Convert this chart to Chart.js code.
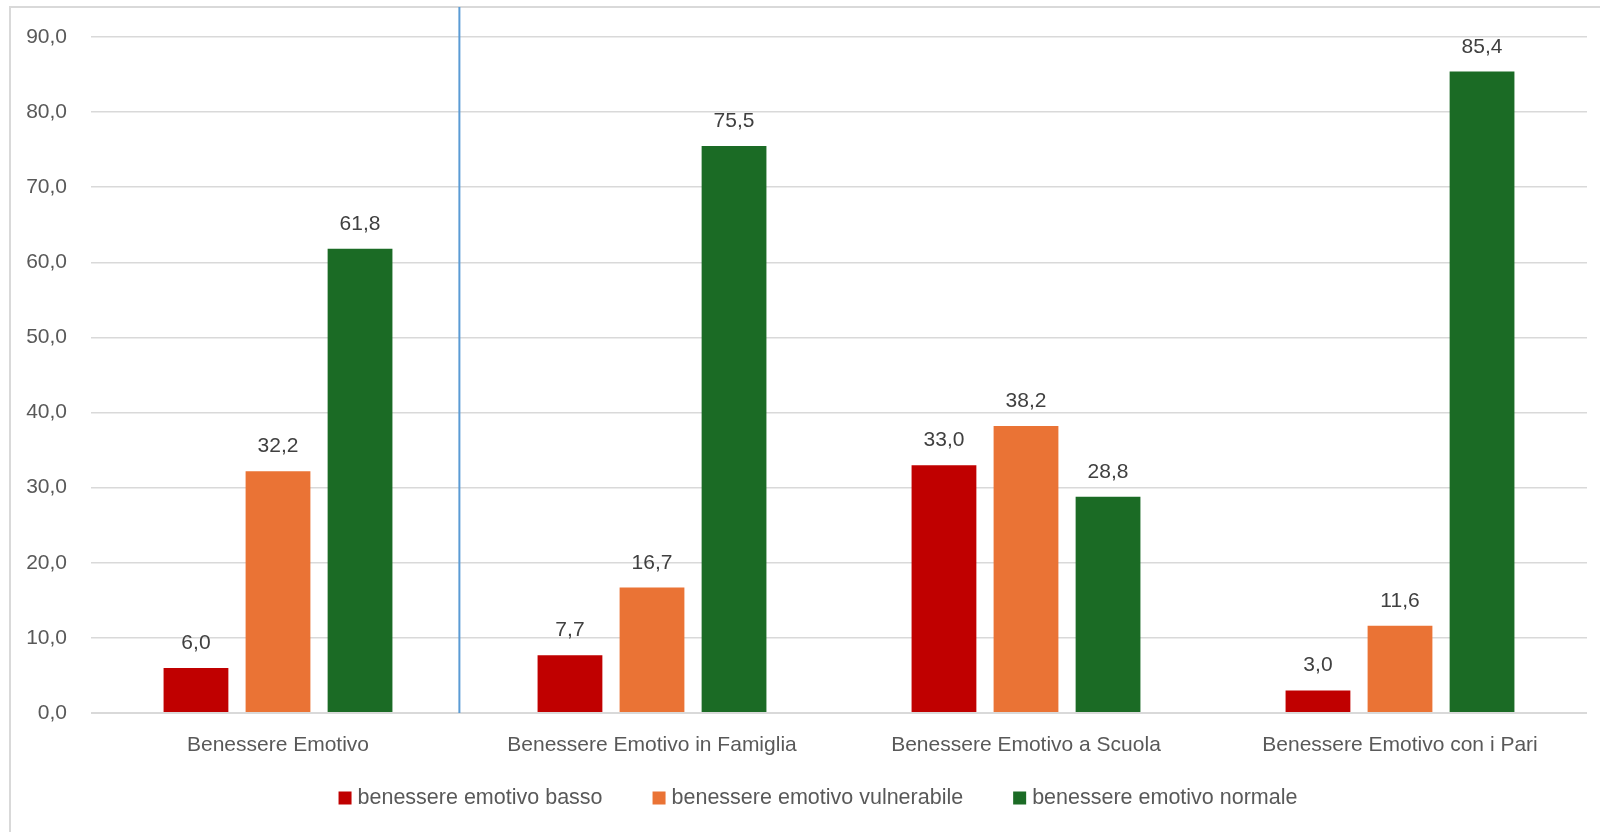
<!DOCTYPE html>
<html lang="it">
<head>
    <meta charset="UTF-8">
    <title>Benessere Emotivo</title>
    <script src="https://cdn.jsdelivr.net/npm/chart.js"></script>
    <style>
        html, body { margin: 0; padding: 0; background: #fff; overflow: hidden; }
        .frame {
            position: absolute; left: 9px; top: 6px;
            width: 1700px; height: 900px;
            border: 2px solid #d9d9d9;
        }
        .wrap { position: absolute; left: 0; top: 0; width: 1600px; height: 832px; }
    </style>
</head>
<body>
    <div class="frame"></div>
    <div class="wrap"><canvas id="chart" width="1600" height="832"></canvas></div>

    <script>
        // data
        const categories = [
            'Benessere Emotivo',
            'Benessere Emotivo in Famiglia',
            'Benessere Emotivo a Scuola',
            'Benessere Emotivo con i Pari'
        ];
        const basso = [6.0, 7.7, 33.0, 3.0];
        const vulnerabile = [32.2, 16.7, 38.2, 11.6];
        const normale = [61.8, 75.5, 28.8, 85.4];
        const seriesNames = ['benessere emotivo basso', 'benessere emotivo vulnerabile', 'benessere emotivo normale'];
        const yTicks = [0, 10, 20, 30, 40, 50, 60, 70, 80, 90];

        const colors = ['#c00000', '#ea7335', '#1b6b25'];
        const fmt = v => v.toFixed(1).replace('.', ',');
        const sans = '"Liberation Sans", Arial, sans-serif';

        // value labels above each bar
        const valueLabels = {
            id: 'valueLabels',
            afterDatasetsDraw(chart) {
                const ctx = chart.ctx;
                ctx.save();
                ctx.font = '21px ' + sans;
                ctx.fillStyle = '#404040';
                ctx.textAlign = 'center';
                ctx.textBaseline = 'alphabetic';
                chart.data.datasets.forEach((ds, i) => {
                    chart.getDatasetMeta(i).data.forEach((bar, j) => {
                        ctx.fillText(fmt(ds.data[j]), bar.x, bar.y - 19);
                    });
                });
                ctx.restore();
            }
        };

        // blue separator between first and second group
        const separator = {
            id: 'separator',
            beforeDatasetsDraw(chart) {
                const x = chart.scales.x.getPixelForValue(0.485);
                const ctx = chart.ctx;
                ctx.save();
                ctx.strokeStyle = '#5b9bd5';
                ctx.lineWidth = 2;
                ctx.beginPath();
                ctx.moveTo(x, 7);
                ctx.lineTo(x, chart.chartArea.bottom);
                ctx.stroke();
                ctx.restore();
            }
        };

        // legend row under the axis labels (excel-like spacing)
        const bottomLegend = {
            id: 'bottomLegend',
            afterDraw(chart) {
                const ctx = chart.ctx;
                const box = 13, gap = 6, spacing = 50, cy = 798, center = 818;
                ctx.save();
                ctx.font = '21.5px ' + sans;
                ctx.textBaseline = 'middle';
                ctx.textAlign = 'left';
                const items = chart.data.datasets.map(ds => ({
                    text: ds.label, color: ds.backgroundColor,
                    w: box + gap + ctx.measureText(ds.label).width
                }));
                const total = items.reduce((s, it) => s + it.w, 0) + spacing * (items.length - 1);
                let x = center - total / 2;
                items.forEach(it => {
                    ctx.fillStyle = it.color;
                    ctx.fillRect(x, cy - box / 2, box, box);
                    ctx.fillStyle = '#595959';
                    ctx.fillText(it.text, x + box + gap, cy);
                    x += it.w + spacing;
                });
                ctx.restore();
            }
        };

        new Chart(document.getElementById('chart'), {
            type: 'bar',
            data: {
                labels: categories,
                datasets: [basso, vulnerabile, normale].map((d, i) => ({
                    label: seriesNames[i],
                    data: d,
                    backgroundColor: colors[i],
                    categoryPercentage: 0.658,
                    barPercentage: 0.79
                }))
            },
            options: {
                responsive: false,
                animation: false,
                layout: { padding: { top: 37, right: 13, left: 0, bottom: 75 } },
                plugins: {
                    legend: { display: false },
                    tooltip: { enabled: false }
                },
                scales: {
                    x: {
                        grid: { display: false },
                        border: { display: false },
                        ticks: {
                            padding: 12,
                            autoSkip: false,
                            color: '#595959',
                            font: { family: sans, size: 21 }
                        },
                        afterFit(scale) { scale.height = 44; }
                    },
                    y: {
                        min: 0,
                        max: 90,
                        afterBuildTicks(scale) { scale.ticks = yTicks.map(v => ({ value: v })); },
                        grid: {
                            color: '#d9d9d9',
                            lineWidth: c => c.tick && c.tick.value === 0 ? 2 : 1.5,
                            drawTicks: false
                        },
                        border: { display: false },
                        ticks: {
                            padding: 24,
                            color: '#595959',
                            font: { family: sans, size: 21 },
                            callback: v => fmt(v)
                        },
                        afterFit(scale) { scale.width = 91; }
                    }
                }
            },
            plugins: [separator, valueLabels, bottomLegend]
        });
    </script>
</body>
</html>
